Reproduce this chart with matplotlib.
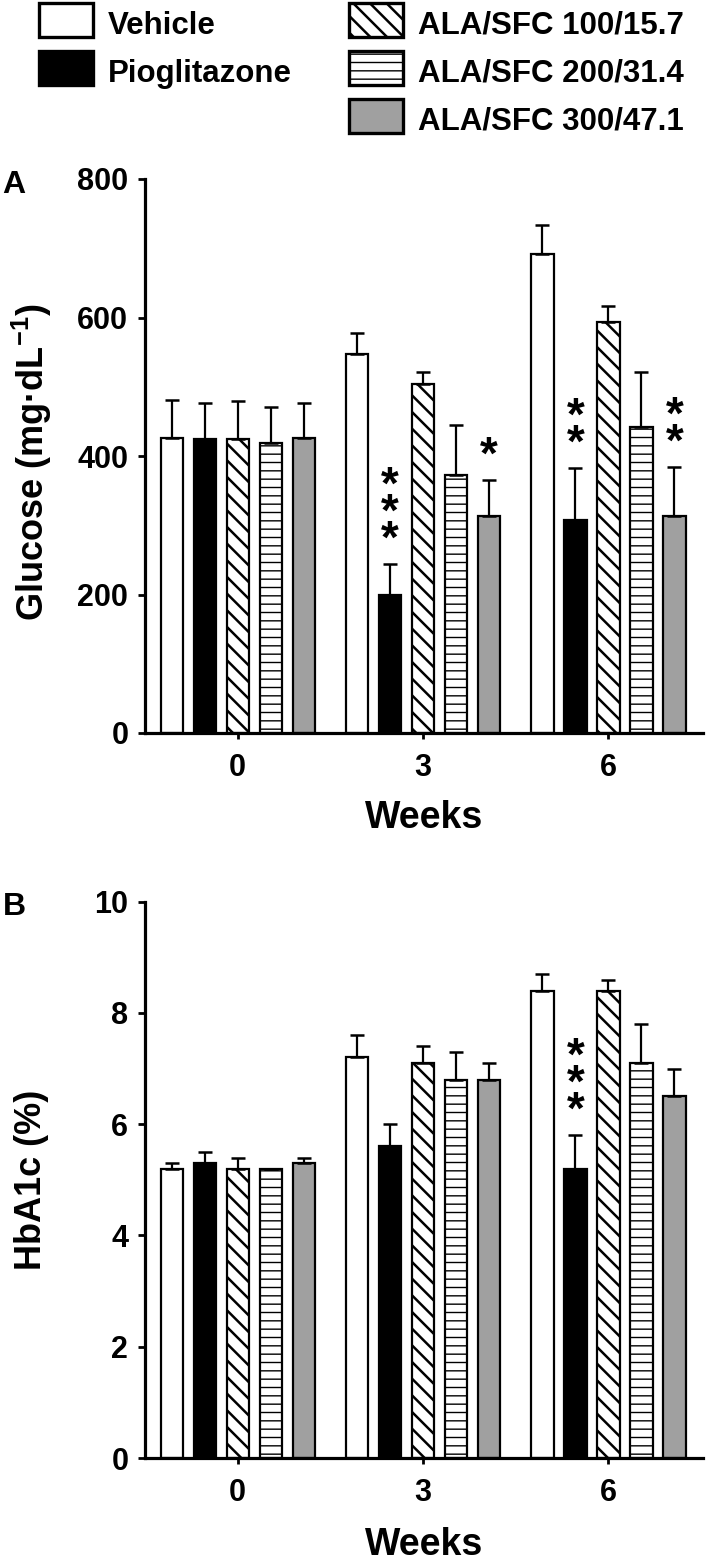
import numpy as np
import matplotlib
matplotlib.use('Agg')
import matplotlib.pyplot as plt
from matplotlib.patches import Rectangle

plt.rcParams['font.family'] = ['Liberation Sans', 'DejaVu Sans']
plt.rcParams['font.weight'] = 'bold'
plt.rcParams['mathtext.fontset'] = 'custom'
plt.rcParams['mathtext.rm'] = 'Liberation Sans:bold'
plt.rcParams['mathtext.it'] = 'Liberation Sans:bold'
plt.rcParams['mathtext.bf'] = 'Liberation Sans:bold'
plt.rcParams['hatch.linewidth'] = 1.7

# ---------------- data ----------------
weeks = ['0', '3', '6']
treatments = ['Vehicle', 'Pioglitazone', 'ALA/SFC 100/15.7',
              'ALA/SFC 200/31.4', 'ALA/SFC 300/47.1']

glucose_mean = [
    [426, 547, 691],   # Vehicle
    [424, 200, 308],   # Pioglitazone
    [425, 504, 593],   # ALA/SFC 100/15.7
    [419, 373, 442],   # ALA/SFC 200/31.4
    [426, 313, 313],   # ALA/SFC 300/47.1
]
glucose_sem = [
    [55, 30, 43],
    [53, 44, 74],
    [55, 18, 23],
    [52, 72, 79],
    [51, 52, 71],
]
hba1c_mean = [
    [5.2, 7.2, 8.4],
    [5.3, 5.6, 5.2],
    [5.2, 7.1, 8.4],
    [5.2, 6.8, 7.1],
    [5.3, 6.8, 6.5],
]
hba1c_sem = [
    [0.1, 0.4, 0.3],
    [0.2, 0.4, 0.6],
    [0.2, 0.3, 0.2],
    [0.0, 0.5, 0.7],
    [0.1, 0.3, 0.5],
]
# significance: (week index, treatment index, number of stars)
glucose_stars = [(1, 1, 3), (1, 4, 1), (2, 1, 2), (2, 4, 2)]
hba1c_stars = [(2, 1, 3)]

glucose_ticks = [0, 200, 400, 600, 800]
hba1c_ticks = [0, 2, 4, 6, 8, 10]

# ---------------- style ----------------
fills = ['white', 'black', 'white', 'white', '#a0a0a0']
hatches = [None, None, '\\\\', '--', None]
hatch_lws = [1.0, 1.0, 1.8, 1.0, 1.0]

W, H = 709, 1567
fig = plt.figure(figsize=(W / 100, H / 100), dpi=100)


def px_axes(left, right, top, bottom):
    return fig.add_axes([left / W, 1 - bottom / H, (right - left) / W, (bottom - top) / H])


def panel(ax, means, sems, ymax, yticks, stars):
    x = np.arange(len(weeks))
    offs = (np.arange(len(treatments)) - 2) * 0.178
    for i in range(len(treatments)):
        bars = ax.bar(x + offs[i], means[i], width=0.12, color=fills[i],
                      edgecolor='black', linewidth=1.6, hatch=hatches[i], zorder=2)
        if hatches[i]:
            for b in bars:
                if hasattr(b, 'set_hatch_linewidth'):
                    b.set_hatch_linewidth(hatch_lws[i])
        ax.errorbar(x + offs[i], means[i], yerr=[np.zeros(len(weeks)), sems[i]],
                    fmt='none', ecolor='black', elinewidth=1.6, capsize=4.8,
                    capthick=1.8, zorder=3)
    for wk, ti, n in stars:
        top = means[ti][wk] + sems[ti][wk]
        ax.annotate('\n'.join(['*'] * n), xy=(x[wk] + offs[ti], top),
                    xytext=(0, 8.5), textcoords='offset points',
                    ha='center', va='baseline', ma='center', fontsize=33,
                    fontweight='bold', linespacing=0.5,
                    annotation_clip=False, zorder=4)
    ax.set_xlim(-0.5, 2.51)
    ax.set_ylim(0, ymax)
    ax.set_yticks(yticks)
    ax.set_xticks(x)
    ax.set_xticklabels(weeks)
    for s in ['top', 'right']:
        ax.spines[s].set_visible(False)
    for s in ['left', 'bottom']:
        ax.spines[s].set_linewidth(2.3)
    ax.tick_params(axis='y', direction='out', length=5, width=2, pad=7, labelsize=22)
    ax.tick_params(axis='x', direction='out', length=4.5, width=2, pad=10, labelsize=22)
    for lab in ax.get_xticklabels() + ax.get_yticklabels():
        lab.set_fontweight('bold')


axA = px_axes(145, 703, 179, 733)
panel(axA, glucose_mean, glucose_sem, 800, glucose_ticks, glucose_stars)
axB = px_axes(145, 703, 901.7, 1458)
panel(axB, hba1c_mean, hba1c_sem, 10, hba1c_ticks, hba1c_stars)

# labels
fig.text(32 / W, 1 - 462 / H, r'Glucose (mg·dL$^{-1}$)', rotation=90,
         ha='center', va='center', fontsize=26, fontweight='bold')
fig.text(32 / W, 1 - 1180 / H, 'HbA1c (%)', rotation=90,
         ha='center', va='center', fontsize=26, fontweight='bold')
fig.text(424 / W, 1 - 828 / H, 'Weeks', ha='center', va='baseline',
         fontsize=27, fontweight='bold')
fig.text(424 / W, 1 - 1555 / H, 'Weeks', ha='center', va='baseline',
         fontsize=27, fontweight='bold')
fig.text(2 / W, 1 - 193 / H, 'A', ha='left', va='baseline', fontsize=23, fontweight='bold')
fig.text(3 / W, 1 - 915 / H, 'B', ha='left', va='baseline', fontsize=23, fontweight='bold')

# legend
lg = fig.add_axes([0, 0, 1, 1])
lg.set_xlim(0, W)
lg.set_ylim(H, 0)
lg.axis('off')
slots = [(39, 3), (39, 51), (349, 3), (349, 51), (349, 99)]
for (lx, ly), t, f, h, hl in zip(slots, treatments, fills, hatches, hatch_lws):
    r = Rectangle((lx, ly), 54, 34, facecolor=f, edgecolor='black', linewidth=2.4, hatch=h)
    if h and hasattr(r, 'set_hatch_linewidth'):
        r.set_hatch_linewidth(hl)
    lg.add_patch(r)
    lg.text(lx + 54 + 15, ly + 31, t, ha='left', va='baseline', fontsize=22.5,
            fontweight='bold')

fig.savefig('out.png', dpi=100)
